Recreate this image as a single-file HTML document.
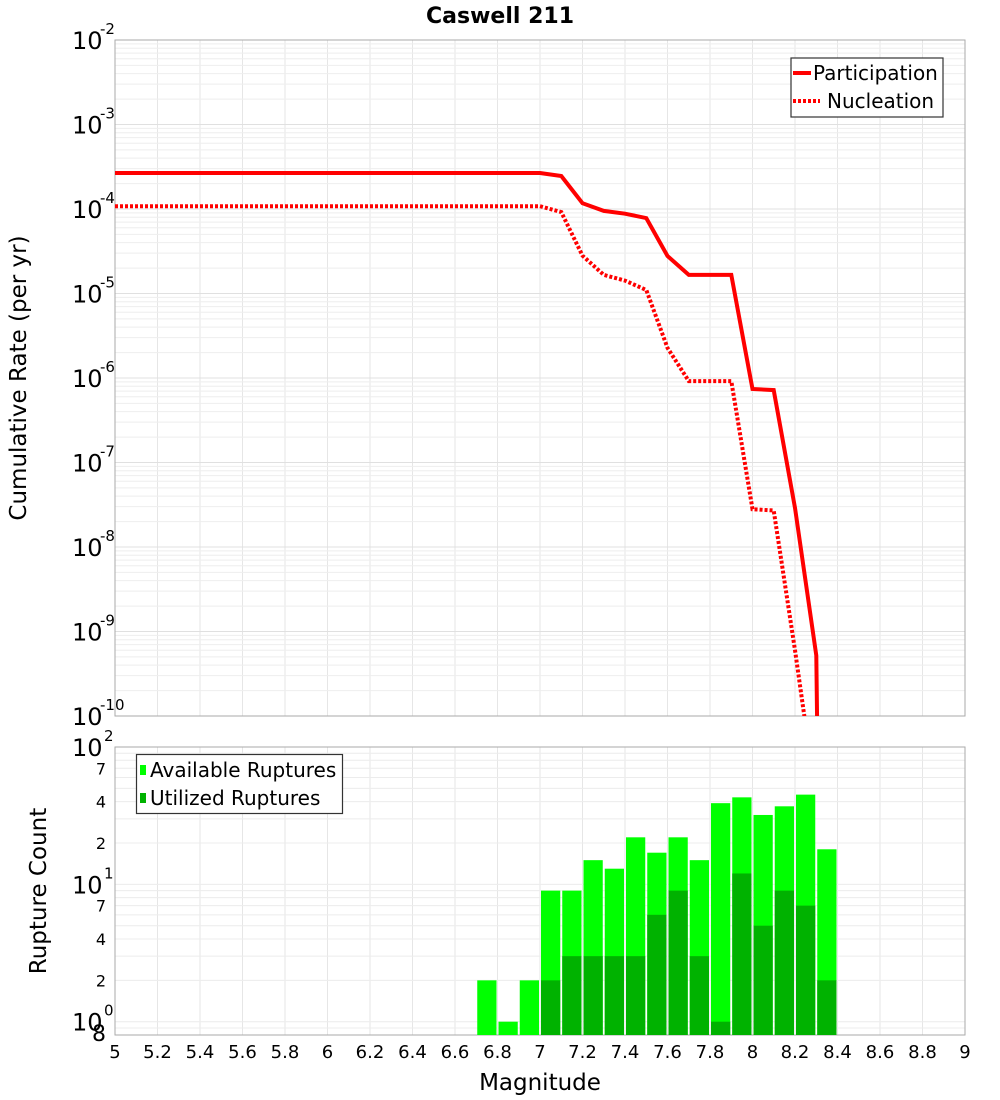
<!DOCTYPE html>
<html><head><meta charset="utf-8">
<style>
body{margin:0;background:#fff;}
svg{display:block;font-family:"DejaVu Sans","Liberation Sans",sans-serif;}
</style></head>
<body>
<svg id="chart" width="1000" height="1100" xmlns="http://www.w3.org/2000/svg">
<text x="500" y="23" text-anchor="middle" font-size="22" font-weight="bold">Caswell 211</text>
<g id="topPlot"></g>
<g id="botPlot"></g>
<text transform="translate(26,378) rotate(-90)" text-anchor="middle" font-size="23">Cumulative Rate (per yr)</text>
<text transform="translate(46,891) rotate(-90)" text-anchor="middle" font-size="23">Rupture Count</text>
<text x="540" y="1090" text-anchor="middle" font-size="23">Magnitude</text>
<g>
<rect x="791" y="58" width="152" height="59" fill="#fff" stroke="#333" stroke-width="1.2"/>
<line x1="793" y1="73" x2="811" y2="73" stroke="#f00" stroke-width="4"/>
<text x="813" y="80" font-size="20">Participation</text>
<line x1="793" y1="101" x2="820" y2="101" stroke="#f00" stroke-width="4" stroke-dasharray="3,2"/>
<text x="827" y="108" font-size="20">Nucleation</text>
</g>
<g>
<rect x="136.5" y="754.5" width="206" height="59" fill="#fff" stroke="#333" stroke-width="1.2"/>
<rect x="140" y="765" width="6" height="10" fill="#00ff00"/>
<text x="150" y="777" font-size="20">Available Ruptures</text>
<rect x="140" y="793" width="6" height="10" fill="#00b200"/>
<text x="150" y="805" font-size="20">Utilized Ruptures</text>
</g>
</svg>
<script>
const NS="http://www.w3.org/2000/svg";
const magsLine=[5.0,7.0,7.1,7.2,7.3,7.4,7.5,7.6,7.7,7.8,7.9,8.0,8.1,8.2,8.3];
const participation=[2.67e-4,2.67e-4,2.46e-4,1.17e-4,9.5e-5,8.8e-5,7.8e-5,2.78e-5,1.66e-5,1.66e-5,1.66e-5,7.4e-7,7.2e-7,2.9e-8,5.2e-10];
const nucleation=[1.08e-4,1.08e-4,9.2e-5,2.8e-5,1.66e-5,1.42e-5,1.1e-5,2.27e-6,9.2e-7,9.2e-7,9.2e-7,2.8e-8,2.7e-8,6e-10,1e-11];
const barMags=[6.7,6.8,6.9,7.0,7.1,7.2,7.3,7.4,7.5,7.6,7.7,7.8,7.9,8.0,8.1,8.2,8.3];
const available=[2,1,2,9,9,15,13,22,17,22,15,39,43,32,37,45,18];
const utilized=[0,0,0,2,3,3,3,3,6,9,3,1,12,5,9,7,2];
const xTicks=["5","5.2","5.4","5.6","5.8","6","6.2","6.4","6.6","6.8","7","7.2","7.4","7.6","7.8","8","8.2","8.4","8.6","8.8","9"];

const X0=115,X1=965;
const xs=m=>X0+(m-5)/4*(X1-X0);
const T0=40,T1=716;
const yTop=v=>T0+(-2-Math.log10(v))/8*(T1-T0);
const B0=747,B1=1035;
const BD=(B1-B0)/(2-Math.log10(0.8));
const yBot=v=>B0+(2-Math.log10(Math.max(v,0.8)))*BD;

function el(tag,attrs,parent){const e=document.createElementNS(NS,tag);for(const k in attrs)e.setAttribute(k,attrs[k]);parent.appendChild(e);return e;}
const topG=document.getElementById('topPlot'),botG=document.getElementById('botPlot');

function frame(g,y0,y1,ticksFn){
  for(let i=0;i<xTicks.length;i++){const x=xs(parseFloat(xTicks[i]));
    const l=el('line',{x1:x,x2:x,y1:y0,y2:y1,stroke:'#e6e6e6','stroke-width':1},g);
    
    }
  ticksFn();
  const r=el('rect',{x:X0,y:y0,width:X1-X0,height:y1-y0,fill:'none',stroke:'#aaa','stroke-width':1},g);
  
  
}
frame(topG,T0,T1,()=>{
  for(let e=-10;e<-2;e++)for(let k=1;k<10;k++){const y=yTop(k*Math.pow(10,e));
    const l=el('line',{x1:X0,x2:X1,y1:y,y2:y,stroke:k==1?'#e0e0e0':'#eeeeee','stroke-width':1},topG);
    
    }
  for(let e=-10;e<=-2;e++){const y=yTop(Math.pow(10,e));
    const t=el('text',{x:72,y:y+9,'font-size':24},topG);t.textContent='10';
    
    
    const s=el('text',{x:100,y:y-6,'font-size':15},topG);s.textContent=String(e);
    
    }
});
frame(botG,B0,B1,()=>{
  for(let e=-1;e<2;e++)for(let k=1;k<10;k++){const v=k*Math.pow(10,e);if(v<0.8)continue;const y=yBot(v);
    const l=el('line',{x1:X0,x2:X1,y1:y,y2:y,stroke:'#ececec','stroke-width':1},botG);
    
    }
  [[100,'2'],[10,'1'],[1,'0']].forEach(([v,ex])=>{const y=yBot(v);
    const t=el('text',{x:72,y:y+9,'font-size':24},botG);t.textContent='10';
    
    
    const s=el('text',{x:104,y:y-6,'font-size':15},botG);s.textContent=ex;
    
    });
  [[70,'7'],[40,'4'],[20,'2'],[7,'7'],[4,'4'],[2,'2'],[0.8,'8']].forEach(([v,lab])=>{const y=yBot(v);
    const t=el('text',{x:106,y:y+6,'font-size':v==0.8?22:16,'text-anchor':'end'},botG);t.textContent=lab;
    
    });
});
xTicks.forEach(lab=>{const t=el('text',{x:xs(parseFloat(lab)),y:1058,'font-size':18,'text-anchor':'middle'},botG);t.textContent=lab;
  
  });
barMags.forEach((m,i)=>{const x=xs(m)+1,w=xs(m+0.1)-xs(m)-2;
  const ya=yBot(available[i]);
  const a=el('rect',{x:x,y:ya,width:w,height:B1-ya,fill:'#00ff00'},botG);
  
  
  if(utilized[i]>0){const yu=yBot(utilized[i]);
    const u=el('rect',{x:x,y:yu,width:w,height:B1-yu,fill:'#00b200'},botG);
    
    }
});
const clip=el('clipPath',{id:'tc'},topG);el('rect',{x:X0,y:T0,width:X1-X0,height:T1-T0},clip);
function line(vals,dash,name,endDrop){
  let d=vals.map((v,i)=>(i?'L':'M')+xs(magsLine[i]).toFixed(1)+','+yTop(v).toFixed(1)).join(' ');
  if(endDrop){d+=' L'+(xs(magsLine[magsLine.length-1])+1).toFixed(1)+','+(T1+20);}
  const p=el('path',{d:d,fill:'none',stroke:'#ff0000','stroke-width':4,'clip-path':'url(#tc)'},topG);
  if(dash)p.setAttribute('stroke-dasharray','3,2');
  
  
}
line(participation,false,'participation-line',true);
line(nucleation,true,'nucleation-line',false);
</script>
</body></html>
